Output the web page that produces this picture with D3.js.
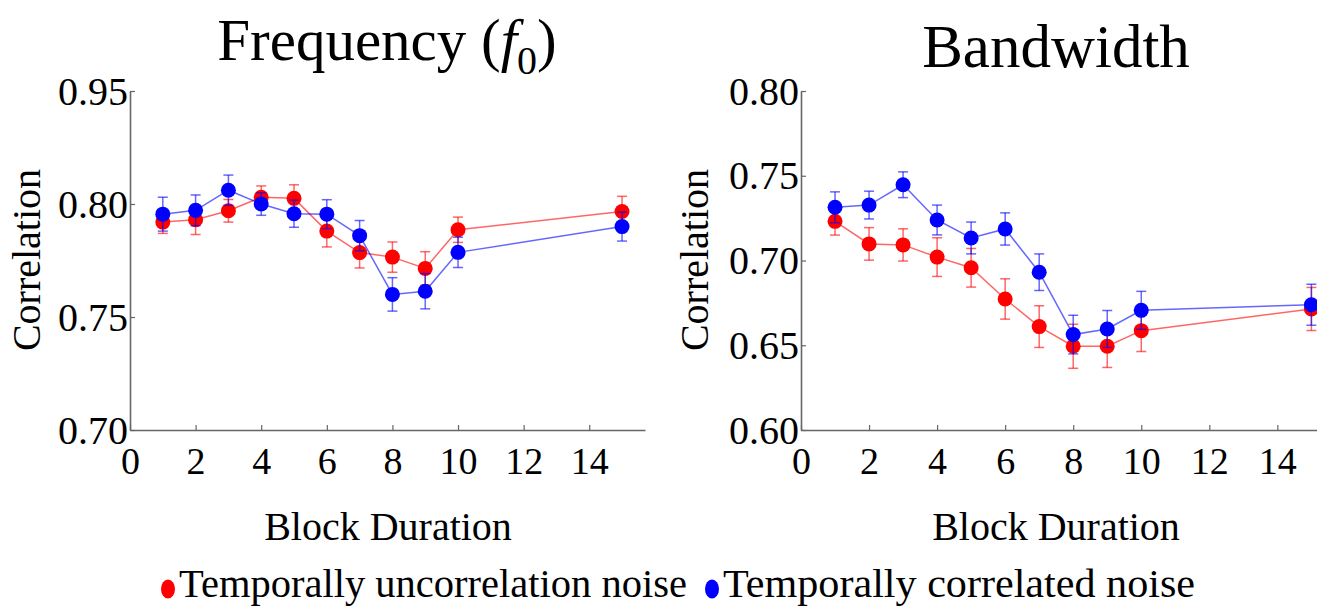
<!DOCTYPE html>
<html>
<head>
<meta charset="utf-8">
<script src="https://cdn.jsdelivr.net/npm/d3@7"></script>
<style>
  body { margin: 0; background: #fff; }
  svg { display: block; font-family: "Liberation Serif", "DejaVu Serif", serif; }
</style>
</head>
<body>
<div id="chart"></div>
<script>
// block durations (x values)
const durations = [1, 2, 3, 4, 5, 6, 7, 8, 9, 10, 15];

// Frequency (f0) panel
const freqUncorr    = [0.792, 0.793, 0.797, 0.803, 0.8025, 0.788, 0.7785, 0.7765, 0.7715, 0.7886, 0.7967];
const freqUncorrErr = [0.005, 0.0065, 0.005, 0.005, 0.006, 0.007, 0.0068, 0.0067, 0.0074, 0.0056, 0.0067];
const freqCorr      = [0.7955, 0.7972, 0.8061, 0.800, 0.7957, 0.7955, 0.786, 0.760, 0.7614, 0.7786, 0.790];
const freqCorrErr   = [0.0075, 0.0068, 0.0067, 0.005, 0.006, 0.0064, 0.0067, 0.0074, 0.0078, 0.0067, 0.0064];

// Bandwidth panel
const bwUncorr    = [0.7231, 0.7098, 0.7092, 0.702, 0.6957, 0.6773, 0.661, 0.6494, 0.6494, 0.6586, 0.6714];
const bwUncorrErr = [0.0081, 0.0096, 0.0095, 0.0114, 0.0114, 0.0119, 0.0123, 0.013, 0.0125, 0.0123, 0.0127];
const bwCorr      = [0.7314, 0.7327, 0.7447, 0.7239, 0.7133, 0.7186, 0.6931, 0.6563, 0.6596, 0.6706, 0.6739];
const bwCorrErr   = [0.0091, 0.0082, 0.0076, 0.0088, 0.0094, 0.0095, 0.0108, 0.0114, 0.0109, 0.0112, 0.0121];

// tick labels
const xTicks = [0, 2, 4, 6, 8, 10, 12, 14];
const freqYTicks = [0.70, 0.75, 0.80, 0.85];
const freqYTickLabels = ["0.70", "0.75", "0.80", "0.95"]; // top label reads 0.95 in the original figure
const bwYTicks = [0.60, 0.65, 0.70, 0.75, 0.80];
const bwYTickLabels = ["0.60", "0.65", "0.70", "0.75", "0.80"];

const legendLabels = ["Temporally uncorrelation noise", "Temporally correlated noise"];
const red = "#ff0000", blue = "#0000ff";

const width = 1317, height = 607;
const svg = d3.select("#chart").append("svg")
    .attr("width", width)
    .attr("height", height);

function drawPanel(opt) {
    const x = d3.scaleLinear().domain([0, opt.xMax]).range([opt.left, opt.right]);
    const y = d3.scaleLinear().domain(opt.yDomain).range([430, 91]);
    const g = svg.append("g");

    // axes (ticks point inward)
    const xAxis = d3.axisBottom(x).tickValues(xTicks).tickSizeInner(-5).tickSizeOuter(0).tickPadding(17);
    const yAxis = d3.axisLeft(y).tickValues(opt.yTicks)
        .tickFormat((d, i) => opt.yTickLabels[i]).tickSizeInner(-5).tickSizeOuter(0).tickPadding(2);

    const gx = g.append("g").attr("transform", `translate(0,${y.range()[0]})`).call(xAxis);
    const gy = g.append("g").attr("transform", `translate(${opt.left},0)`).call(yAxis);
    [gx, gy].forEach(a => {
        a.select(".domain").attr("stroke", "#666").attr("stroke-width", 1.6);
        a.selectAll(".tick line").attr("stroke", "#666").attr("stroke-width", 1.2);
        a.selectAll("text").attr("font-size", 38).attr("fill", "#000")
            .attr("font-family", "Liberation Serif");
    });
    gx.selectAll("text").attr("dy", "0.71em");
    gy.selectAll("text").attr("dy", "0.33em").attr("font-size", 40);

    // series: red first, blue on top
    const series = [
        { vals: opt.uncorr, errs: opt.uncorrErr, color: red },
        { vals: opt.corr, errs: opt.corrErr, color: blue }
    ];
    series.forEach(s => {
        const pts = durations.map((d, i) => ({ x: d, y: s.vals[i], e: s.errs[i] }));
        const sg = g.append("g");
        sg.append("path")
            .datum(pts)
            .attr("fill", "none")
            .attr("stroke", s.color)
            .attr("stroke-opacity", 0.6)
            .attr("stroke-width", 1.5)
            .attr("d", d3.line().x(d => x(d.x)).y(d => y(d.y)));
        const eb = sg.selectAll(".err").data(pts).enter().append("g")
            .attr("stroke", s.color).attr("stroke-opacity", 0.6).attr("stroke-width", 1.5);
        eb.append("line")
            .attr("x1", d => x(d.x)).attr("x2", d => x(d.x))
            .attr("y1", d => y(d.y - d.e)).attr("y2", d => y(d.y + d.e));
        eb.append("line")
            .attr("x1", d => x(d.x) - 5).attr("x2", d => x(d.x) + 5)
            .attr("y1", d => y(d.y + d.e)).attr("y2", d => y(d.y + d.e));
        eb.append("line")
            .attr("x1", d => x(d.x) - 5).attr("x2", d => x(d.x) + 5)
            .attr("y1", d => y(d.y - d.e)).attr("y2", d => y(d.y - d.e));
        sg.selectAll("circle").data(pts).enter().append("circle")
            .attr("cx", d => x(d.x)).attr("cy", d => y(d.y))
            .attr("r", 7.5).attr("fill", s.color);
    });

    // y label
    g.append("text")
        .attr("transform", `translate(${opt.yLabelX},260) rotate(-90)`)
        .attr("text-anchor", "middle")
        .attr("font-size", 40)
        .text("Correlation");

    // x label
    g.append("text")
        .attr("x", opt.xLabelX).attr("y", 540)
        .attr("text-anchor", "middle")
        .attr("font-size", 40)
        .text("Block Duration");
}

drawPanel({
    left: 130, right: 645, xMax: 15.7,
    yDomain: [0.70, 0.85], yTicks: freqYTicks, yTickLabels: freqYTickLabels,
    uncorr: freqUncorr, uncorrErr: freqUncorrErr, corr: freqCorr, corrErr: freqCorrErr,
    yLabelX: 40, xLabelX: 388
});

drawPanel({
    left: 801, right: 1325, xMax: 15.4,
    yDomain: [0.60, 0.80], yTicks: bwYTicks, yTickLabels: bwYTickLabels,
    uncorr: bwUncorr, uncorrErr: bwUncorrErr, corr: bwCorr, corrErr: bwCorrErr,
    yLabelX: 708, xLabelX: 1056
});

// titles
const t1 = svg.append("text").attr("x", 387).attr("y", 60)
    .attr("text-anchor", "middle").attr("font-size", 59);
t1.append("tspan").text("Frequency (");
t1.append("tspan").attr("font-style", "italic").text("f");
t1.append("tspan").attr("font-size", 40).attr("dy", 14).text("0");
t1.append("tspan").attr("dy", -14).text(")");

svg.append("text").attr("x", 1056).attr("y", 67)
    .attr("text-anchor", "middle").attr("font-size", 61)
    .text("Bandwidth");

// legend
const legend = svg.append("g");
const legendItems = [
    { label: legendLabels[0], color: red, x: 168, w: 508 },
    { label: legendLabels[1], color: blue, x: 712, w: 472 }
];
legendItems.forEach(d => {
    legend.append("ellipse")
        .attr("cx", d.x).attr("cy", 589)
        .attr("rx", 7).attr("ry", 9.5)
        .attr("fill", d.color);
    legend.append("text")
        .attr("x", d.x + 11).attr("y", 597)
        .attr("font-size", 40)
        .attr("textLength", d.w)
        .attr("lengthAdjust", "spacingAndGlyphs")
        .text(d.label);
});
</script>
</body>
</html>
